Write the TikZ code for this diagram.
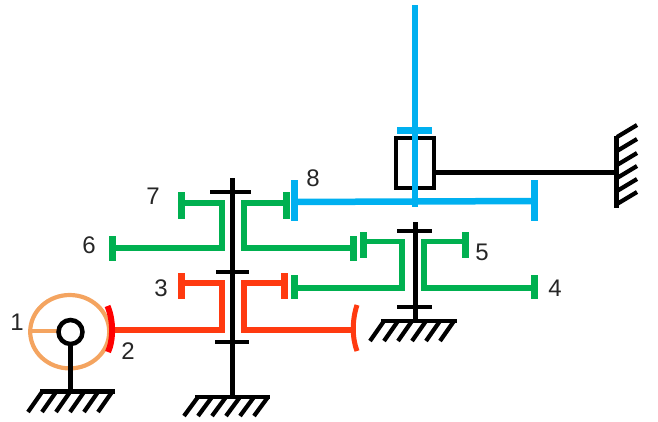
\documentclass[tikz,border=0pt]{standalone}
\usepackage{fontspec}
\setmainfont{Liberation Sans}
\definecolor{gearorange}{HTML}{F4A460}
\definecolor{gearred}{HTML}{FF3A10}
\definecolor{geargreen}{HTML}{00B050}
\definecolor{gearblue}{HTML}{00B0F0}
\definecolor{labelgray}{HTML}{262626}
\tikzset{
    shaft/.style={draw=black, line width=5pt},
    tick/.style={draw=black, line width=4.6pt},
    hatch/.style={draw=black, line width=4.2pt},
    redgear/.style={draw=gearred, line width=5.8pt, line join=miter},
    greengear/.style={draw=geargreen, line width=5.8pt, line join=miter},
    bluegear/.style={draw=gearblue, line width=6.5pt},
    redcap/.style={draw=gearred, line width=7pt},
    greencap/.style={draw=geargreen, line width=7pt},
    bluecap/.style={draw=gearblue, line width=7pt},
    num/.style={text=labelgray, font=\fontsize{24}{24}\selectfont, inner sep=0pt} }

\begin{document}
\begin{tikzpicture}[x=1pt, y=-1pt]
			\useasboundingbox (0,0) rectangle (658,421);
			% ---- worm and gear 2
			\draw[draw=gearorange, line width=4.2pt] (69.7,331.7) ellipse [x radius=39.5, y radius=36.7];
			\draw[draw=gearorange, line width=4.2pt] (30,331) -- (58,331);
			\draw[shaft] (70.5,343) -- (70.5,392);
			\draw[draw=black, line width=4.5pt, fill=white] (70.5,332) circle (12);
			\draw[draw=red, line width=6pt] (107.5,306) .. controls (113.5,320) and (113.5,340) .. (108,352);
			% ---- shaft one
			\draw[shaft] (232,178) -- (232,397);
			\draw[tick] (210,192) -- (251,192);
			\draw[tick] (216,272) -- (249,272);
			\draw[tick] (215,342) -- (249,342);
			% ---- red gears
			\draw[redgear] (115,330) -- (222,330) -- (222,283) -- (181,283);
			\draw[redgear] (355,330) -- (244,330) -- (244,283) -- (287,283);
			\draw[redcap] (181,273) -- (181,299);
			\draw[redcap] (284,273) -- (284,299);
			\draw[draw=gearred, line width=5pt] (357,305) .. controls (352,320) and (352,338) .. (357,351);
			% ---- green gears on shaft one
			\draw[greengear] (181,203) -- (222,203) -- (222,248) -- (112,248);
			\draw[greengear] (286,203) -- (244,203) -- (244,248) -- (353,248);
			\draw[greencap] (181,192) -- (181,219);
			\draw[greencap] (286,192) -- (286,219);
			\draw[greencap] (112,236) -- (112,261);
			\draw[greencap] (353,236) -- (353,261);
			% ---- shaft two
			\draw[shaft] (415,222) -- (415,321);
			\draw[tick] (397,231) -- (432,231);
			\draw[tick] (397,307) -- (432,307);
			% ---- green gears on shaft two
			\draw[greengear] (363,241.5) -- (402,241.5) -- (402,288) -- (294,288);
			\draw[greengear] (465,241.5) -- (424,241.5) -- (424,288) -- (534,288);
			\draw[greencap] (363,232) -- (363,258);
			\draw[greencap] (465,232) -- (465,258);
			\draw[greencap] (294,275) -- (294,299);
			\draw[greencap] (534,275) -- (534,299);
			% ---- sleeve and wall
			\draw[draw=black, line width=4.6pt] (396,138) rectangle (434,188);
			\draw[shaft] (434,172) -- (616,172);
			\draw[shaft] (616.5,136) -- (616.5,208);
			\foreach \y in {137,151,165,178,191,204}
				\draw[hatch] (617,\y) -- (637,\y-12);
			% ---- blue output
			\draw[bluegear] (415,5) -- (415,207);
			\draw[bluegear] (294,202) -- (534,201);
			\draw[bluecap] (397,130) -- (432,130);
			\draw[bluecap] (294,180) -- (294,221);
			\draw[bluecap] (534,180) -- (534,221);
			% ---- grounds
			\draw[hatch] (40,391.5) -- (115,391.5);
			\foreach \x in {42,56,70,84,98,112}
				\draw[hatch] (\x,392) -- (\x-14,412);
			\draw[hatch] (195,397) -- (270,397);
			\foreach \x in {198,212,226,240,254,268}
				\draw[hatch] (\x,397) -- (\x-14,416);
			\draw[hatch] (381,321) -- (457,321);
			\foreach \x in {384,398,412,426,440,454}
				\draw[hatch] (\x,321) -- (\x-14,341);
			% ---- numbers
			\node[num] (n1) at (17,322) {1};
			\node[num] (n2) at (128,351) {2};
			\node[num] (n3) at (161,288) {3};
			\node[num] (n4) at (555,288) {4};
			\node[num] (n5) at (482,252) {5};
			\node[num] (n6) at (89,245) {6};
			\node[num] (n7) at (153,196) {7};
			\node[num] (n8) at (313,178) {8};
		\end{tikzpicture}
\end{document}
